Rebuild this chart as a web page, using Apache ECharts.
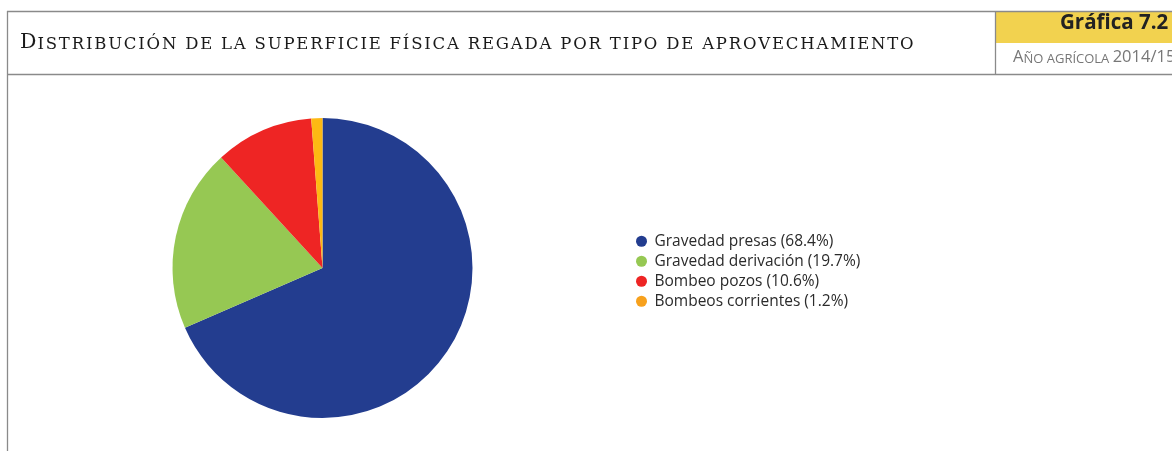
<!DOCTYPE html>
<html>
<head>
<meta charset="utf-8">
<script src="https://cdn.jsdelivr.net/npm/echarts@6/dist/echarts.min.js"></script>
<style>
  html, body { margin: 0; padding: 0; background: #fff; }
  #chart { width: 1172px; height: 451px; }
</style>
</head>
<body>
<div id="chart"></div>
<script>
// Superficie física regada por tipo de aprovechamiento (%), año agrícola 2014/15
const categories = ['Gravedad presas', 'Gravedad derivación', 'Bombeo pozos', 'Bombeos corrientes'];
const shares = [68.4, 19.7, 10.6, 1.2];
const sliceColors = ['#233D8F', '#96C853', '#EE2524', '#FDB913'];
const legendColors = ['#233D8F', '#96C853', '#EE2524', '#F7A11D'];

const titleCap = 'D';
const titleRest = 'ISTRIBUCIÓN DE LA SUPERFICIE FÍSICA REGADA POR TIPO DE APROVECHAMIENTO';
const badgeText = 'Gráfica 7.2';
const periodCap = 'A';
const periodRest = 'ÑO AGRÍCOLA';
const periodYears = '2014/15';

const frameColor = '#8A8A8A';
const chart = echarts.init(document.getElementById('chart'), null, { renderer: 'canvas' });

const pieData = categories.map((name, i) => ({
  name: name,
  value: shares[i],
  itemStyle: { color: sliceColors[i] }
}));

// small capitals with a little tracking: one rich token per letter
function tracked(style, str) {
  return str.split('').map(ch => '{' + style + '|' + ch + '}').join('');
}
const titleRich = '{cap|' + titleCap + '}' + tracked('sc', titleRest);

chart.setOption({
  animation: false,
  backgroundColor: '#ffffff',
  legend: {
    orient: 'vertical',
    left: 636,
    top: 233,
    icon: 'circle',
    itemWidth: 14,
    itemHeight: 11,
    itemGap: 3.5,
    padding: 0,
    selectedMode: false,
    data: categories.map((name, i) => ({ name: name, itemStyle: { color: legendColors[i] } })),
    formatter: function (name) {
      const i = categories.indexOf(name);
      return name + ' (' + shares[i].toFixed(1) + '%)';
    },
    textStyle: {
      fontFamily: 'Open Sans',
      fontSize: 15.5,
      color: '#2b2b2b',
      lineHeight: 16.5,
      padding: [0, 0, 0, 1]
    }
  },
  series: [{
    type: 'pie',
    center: [322.5, 268],
    radius: 150,
    startAngle: 90,
    clockwise: true,
    label: { show: false },
    labelLine: { show: false },
    emphasis: { disabled: true },
    itemStyle: { borderWidth: 0 },
    data: pieData
  }],
  graphic: [
    // badge background
    { type: 'rect', shape: { x: 996, y: 12, width: 176, height: 31 }, style: { fill: '#F2D24F' }, silent: true },
    // frame lines
    { type: 'line', shape: { x1: 7.5, y1: 11, x2: 7.5, y2: 451 }, style: { stroke: frameColor, lineWidth: 1.3 }, silent: true },
    { type: 'line', shape: { x1: 7, y1: 11.5, x2: 1172, y2: 11.5 }, style: { stroke: frameColor, lineWidth: 1.3 }, silent: true },
    { type: 'line', shape: { x1: 7, y1: 74.5, x2: 1172, y2: 74.5 }, style: { stroke: frameColor, lineWidth: 1.3 }, silent: true },
    { type: 'line', shape: { x1: 995.5, y1: 11, x2: 995.5, y2: 75 }, style: { stroke: frameColor, lineWidth: 1.3 }, silent: true },
    // heading in small capitals
    {
      type: 'text', left: 20, top: 32, silent: true,
      style: {
        text: titleRich,
        rich: {
          cap: { fontFamily: 'DejaVu Serif', fontSize: 20.5, fill: '#1a1a1a', verticalAlign: 'bottom', lineHeight: 22, padding: [0, 1, 0, 0] },
          sc: { fontFamily: 'DejaVu Serif', fontSize: 16.5, fill: '#1a1a1a', verticalAlign: 'bottom', lineHeight: 22, padding: [0, 1.8, 0, 0] }
        }
      }
    },
    {
      type: 'text', left: 1060, top: 12.5, silent: true,
      style: { text: badgeText, fontFamily: 'Open Sans', fontWeight: 'bold', fontSize: 20.5, fill: '#222222' }
    },
    {
      type: 'text', left: 1013, top: 49, silent: true,
      style: {
        text: '{cap|' + periodCap + '}{sc|' + periodRest + '} {num|' + periodYears + '}',
        rich: {
          cap: { fontFamily: 'Open Sans', fontSize: 16.5, fill: '#777777', verticalAlign: 'bottom', lineHeight: 20 },
          sc: { fontFamily: 'Open Sans', fontSize: 13, fill: '#777777', verticalAlign: 'bottom', lineHeight: 20 },
          num: { fontFamily: 'Open Sans', fontSize: 16.5, fill: '#777777', verticalAlign: 'bottom', lineHeight: 20 }
        }
      }
    }
  ]
});
</script>
</body>
</html>
